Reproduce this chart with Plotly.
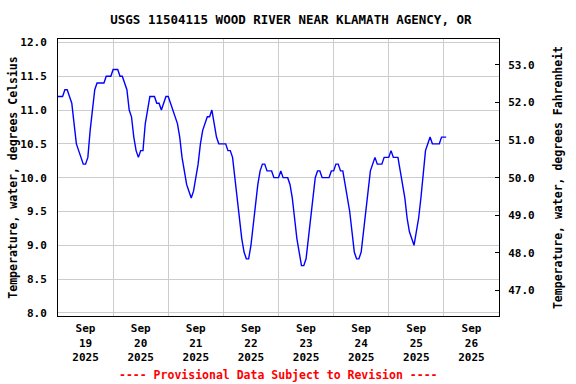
import pandas as pd
import plotly.graph_objects as go

title_text = "USGS 11504115 WOOD RIVER NEAR KLAMATH AGENCY, OR"
footer_text = "---- Provisional Data Subject to Revision ----"
y_left_title = "Temperature, water, degrees Celsius"
y_right_title = "Temperature, water, degrees Fahrenheit"

start_time = "2025-09-19 00:00"
x_range = ["2025-09-19 00:00", "2025-09-27 00:00"]

# hourly water temperature, degrees Celsius
temp_c = [
    # Sep 19
    11.2, 11.2, 11.2, 11.3, 11.3, 11.2, 11.1, 10.8, 10.5, 10.4, 10.3, 10.2,
    10.2, 10.3, 10.7, 11.0, 11.3, 11.4, 11.4, 11.4, 11.4, 11.5, 11.5, 11.5,
    # Sep 20
    11.6, 11.6, 11.6, 11.5, 11.5, 11.4, 11.3, 11.0, 10.9, 10.6, 10.4, 10.3,
    10.4, 10.4, 10.8, 11.0, 11.2, 11.2, 11.2, 11.1, 11.1, 11.0, 11.1, 11.2,
    # Sep 21
    11.2, 11.1, 11.0, 10.9, 10.8, 10.6, 10.3, 10.1, 9.9, 9.8, 9.7, 9.8,
    10.0, 10.2, 10.5, 10.7, 10.8, 10.9, 10.9, 11.0, 10.8, 10.6, 10.5, 10.5,
    # Sep 22
    10.5, 10.5, 10.4, 10.4, 10.3, 10.0, 9.7, 9.4, 9.1, 8.9, 8.8, 8.8,
    9.0, 9.3, 9.6, 9.9, 10.1, 10.2, 10.2, 10.1, 10.1, 10.1, 10.0, 10.0,
    # Sep 23
    10.0, 10.1, 10.0, 10.0, 10.0, 9.9, 9.7, 9.4, 9.1, 8.9, 8.7, 8.7,
    8.8, 9.1, 9.4, 9.7, 10.0, 10.1, 10.1, 10.0, 10.0, 10.0, 10.0, 10.1,
    # Sep 24
    10.1, 10.2, 10.2, 10.1, 10.1, 9.9, 9.7, 9.5, 9.2, 8.9, 8.8, 8.8,
    8.9, 9.2, 9.5, 9.8, 10.1, 10.2, 10.3, 10.2, 10.2, 10.2, 10.3, 10.3,
    # Sep 25
    10.3, 10.4, 10.3, 10.3, 10.3, 10.1, 9.9, 9.7, 9.4, 9.2, 9.1, 9.0,
    9.2, 9.4, 9.7, 10.0, 10.4, 10.5, 10.6, 10.5, 10.5, 10.5, 10.5, 10.6,
    # Sep 26
    10.6, 10.6,
]

c_range = [7.955, 12.05]
c_ticks = [8.0, 8.5, 9.0, 9.5, 10.0, 10.5, 11.0, 11.5, 12.0]
f_ticks = [47.0, 48.0, 49.0, 50.0, 51.0, 52.0, 53.0]

times = pd.date_range(start_time, periods=len(temp_c), freq="h")
temp_f = [c * 9 / 5 + 32 for c in temp_c]
f_range = [c * 9 / 5 + 32 for c in c_range]

FONT = "DejaVu Sans Mono"

fig = go.Figure()
fig.add_trace(go.Scatter(
    x=times, y=temp_c, mode="lines",
    line=dict(color="#0000ff", width=1.4),
    showlegend=False, hoverinfo="x+y",
))
fig.add_trace(go.Scatter(
    x=times, y=temp_f, mode="lines", yaxis="y2",
    line=dict(color="rgba(0,0,0,0)", width=0),
    showlegend=False, hoverinfo="skip",
))

fig.update_layout(
    width=576, height=384,
    margin=dict(l=58, r=77, t=39, b=68, autoexpand=False),
    paper_bgcolor="white", plot_bgcolor="white",
    font=dict(family=FONT, size=11, color="black", weight="bold"),
    title=dict(
        text=title_text, xref="container", yref="container",
        x=0.505, y=0.948, xanchor="center", yanchor="middle",
        font=dict(family=FONT, size=12.5, color="black", weight="bold"),
    ),
    xaxis=dict(
        type="date", range=x_range, automargin=False,
        dtick=86400000, tick0="2025-09-19 00:00",
        ticklabelmode="period", tickformat="%b<br>%d<br>%Y",
        showgrid=True, gridcolor="#cccccc", gridwidth=1,
        ticks="", ticklabelstandoff=2,
        showline=True, linecolor="black", linewidth=1, mirror=True,
        zeroline=False,
        tickfont=dict(family=FONT, size=11, color="black", weight="bold"),
    ),
    yaxis=dict(
        range=c_range, tickvals=c_ticks, tickformat=".1f", automargin=False,
        showgrid=True, gridcolor="#cccccc", gridwidth=1,
        ticks="", ticklabelstandoff=8,
        showline=True, linecolor="black", linewidth=1,
        zeroline=False,
        title=dict(text=y_left_title, standoff=0,
                   font=dict(family=FONT, size=11.5, color="black", weight="bold")),
        tickfont=dict(family=FONT, size=11, color="black", weight="bold"),
    ),
    yaxis2=dict(
        overlaying="y", side="right", automargin=False,
        range=f_range, tickvals=f_ticks, tickformat=".1f",
        showgrid=False,
        ticks="inside", ticklen=4, tickcolor="black",
        ticklabelstandoff=6,
        showline=True, linecolor="black", linewidth=1,
        zeroline=False,
        title=dict(text=y_right_title, standoff=20,
                   font=dict(family=FONT, size=11.5, color="black", weight="bold")),
        tickfont=dict(family=FONT, size=11, color="black", weight="bold"),
    ),
    annotations=[dict(
        text=footer_text, xref="paper", yref="paper",
        x=0.5, y=-0.213, xanchor="center", yanchor="middle",
        showarrow=False,
        font=dict(family=FONT, size=11.5, color="#ff0000", weight="bold"),
    )],
)

fig.write_html(
    "out.html",
    config={"displayModeBar": False},
    post_script="document.body.style.margin='0px';document.body.style.overflow='hidden';",
)
